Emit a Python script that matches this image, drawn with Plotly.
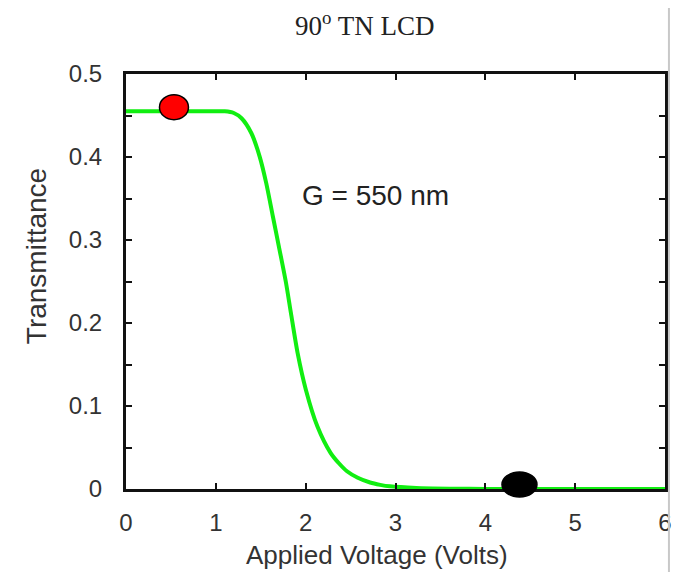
import plotly.graph_objects as go

# ---- data ----
voltage = [0.0, 0.5, 1.0, 1.1, 1.2, 1.286, 1.396, 1.488, 1.561, 1.635, 1.709, 1.781,
           1.836, 1.910, 2.002, 2.130, 2.277, 2.37, 2.460, 2.58, 2.717, 2.83, 2.937,
           3.231, 3.6, 4.0, 5.0, 6.0]
transmittance = [0.455, 0.455, 0.455, 0.455, 0.453, 0.4467, 0.4286, 0.4005, 0.3685, 0.3283,
                 0.2882, 0.2485, 0.212, 0.164, 0.1197, 0.0756, 0.0436, 0.031, 0.0214,
                 0.0135, 0.0078, 0.0050, 0.0032, 0.0012, 0.0004, 0.0001, 0.0, 0.0]
marker_v = [0.534, 4.38]
marker_t = [0.460, 0.0054]
marker_colors = ["#ff0000", "#000000"]
marker_w = [29, 35]
marker_h = [25, 25]
x_ticks = [0, 1, 2, 3, 4, 5, 6]
y_ticks = [0, 0.1, 0.2, 0.3, 0.4, 0.5]
y_tick_text = ["0", "0.1", "0.2", "0.3", "0.4", "0.5"]
X_RANGE = [0, 6]
Y_RANGE = [0, 0.5]

OFF = 8  # page body margin
W, H = 683 - OFF, 572 - OFF
ML, MR, MT, MB = 126 - OFF, 11, 74 - OFF, 83
PW, PH = W - ML - MR, H - MT - MB


def px_x(p):  # window pixel -> paper x
    return (p - OFF - ML) / PW


def px_y(p):  # window pixel -> paper y
    return 1 - (p - OFF - MT) / PH


fig = go.Figure()
fig.add_trace(go.Scatter(
    x=voltage, y=transmittance, mode="lines",
    line=dict(color="#11ee11", width=4, shape="spline", smoothing=0.7),
    hoverinfo="skip", showlegend=False,
))

shapes = []
for v, t, c, w, h in zip(marker_v, marker_t, marker_colors, marker_w, marker_h):
    ya = (t - Y_RANGE[0]) / (Y_RANGE[1] - Y_RANGE[0])
    shapes.append(dict(
        type="circle", xref="x", yref="paper",
        xsizemode="pixel", ysizemode="pixel",
        xanchor=v, yanchor=ya,
        x0=-w / 2, x1=w / 2, y0=-h / 2, y1=h / 2,
        fillcolor=c, line=dict(color="#000000", width=1.5), layer="above",
    ))
# faint vertical edge line at the right of the picture
shapes.append(dict(type="line", xref="paper", yref="paper",
                   x0=px_x(676), x1=px_x(676), y0=px_y(580), y1=px_y(-10),
                   line=dict(color="#c8c8c8", width=2)))

font_sans = "Liberation Sans, Arial, sans-serif"
axis_common = dict(
    showline=True, linecolor="#111111", linewidth=3, mirror="ticks",
    ticks="inside", ticklen=6, tickwidth=2, tickcolor="#111111",
    showgrid=False, zeroline=False,
    tickfont=dict(family=font_sans, size=24, color="#333333"),
)

fig.update_layout(
    width=W, height=H,
    margin=dict(l=ML, r=MR, t=MT, b=MB),
    paper_bgcolor="white", plot_bgcolor="white",
    xaxis=dict(range=X_RANGE, tickvals=x_ticks, ticklabelstandoff=10, **axis_common),
    yaxis=dict(range=Y_RANGE, tickvals=y_ticks, ticktext=y_tick_text,
               ticklabelstandoff=16,
               minor=dict(dtick=0.05, ticks="inside", ticklen=6, tickwidth=2,
                          tickcolor="#111111"),
               **axis_common),
    shapes=shapes,
    annotations=[
        dict(text="90<sup>o</sup> TN LCD", xref="paper", yref="paper",
             x=px_x(368), y=px_y(24), showarrow=False,
             xanchor="center", yanchor="middle",
             font=dict(family="Liberation Serif, Times New Roman, serif", size=27,
                       color="#222222")),
        dict(text="G = 550 nm", xref="x", yref="y", x=2.78, y=0.354, showarrow=False,
             xanchor="center", yanchor="middle",
             font=dict(family=font_sans, size=28, color="#222222")),
        dict(text="Applied Voltage (Volts)", xref="paper", yref="paper",
             x=px_x(380), y=px_y(555), showarrow=False,
             xanchor="center", yanchor="middle",
             font=dict(family=font_sans, size=26, color="#333333")),
        dict(text="Transmittance", xref="paper", yref="paper", textangle=-90,
             x=px_x(35), y=px_y(256), showarrow=False,
             xanchor="center", yanchor="middle",
             font=dict(family=font_sans, size=28, color="#333333")),
    ],
)

fig.write_html("out.html")
